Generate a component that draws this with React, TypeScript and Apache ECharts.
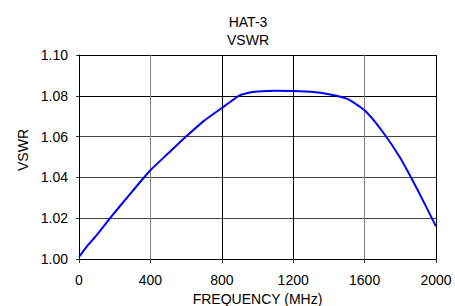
import React, { useEffect, useRef } from "react";
import * as echarts from "echarts";

const freqs = [0, 50, 100, 200, 300, 400, 500, 600, 700, 800, 850, 900, 950, 1000, 1100, 1200, 1300, 1400, 1500, 1600, 1700, 1800, 1900, 2000];
const vswr = [1.001, 1.0068, 1.0118, 1.0228, 1.0333, 1.0435, 1.0518, 1.06, 1.0677, 1.074, 1.0772, 1.0802, 1.0815, 1.0821, 1.0825, 1.0824, 1.082, 1.0808, 1.0786, 1.0729, 1.0625, 1.0495, 1.0333, 1.016];
const xTicks = [0, 400, 800, 1200, 1600, 2000];
const yTicks = [1.0, 1.02, 1.04, 1.06, 1.08, 1.1];

export default function App() {
  const ref = useRef<HTMLDivElement>(null);
  useEffect(() => {
    const chart = echarts.init(ref.current!, undefined, { renderer: "svg" });
    const font = "Liberation Sans, Arial, sans-serif";
    chart.setOption({
      animation: false,
      backgroundColor: "#fff",
      title: {
        text: "HAT-3\nVSWR",
        left: 243,
        textAlign: "center",
        top: 8,
        textStyle: { fontFamily: font, fontSize: 14, fontWeight: "normal", color: "#000", lineHeight: 18 },
      },
      grid: { left: 79, right: 19, top: 55, bottom: 47, outerBoundsMode: "none", containLabel: false },
      xAxis: {
        type: "value",
        min: xTicks[0],
        max: xTicks[xTicks.length - 1],
        interval: 400,
        name: "FREQUENCY (MHz)",
        nameLocation: "middle",
        nameGap: 28,
        nameTextStyle: { fontFamily: font, fontSize: 14, color: "#000", lineHeight: 14 },
        axisLine: { lineStyle: { color: "#000", width: 1 } },
        axisTick: { show: true, inside: false, length: 4, lineStyle: { color: "#333" } },
        axisLabel: { fontFamily: font, fontSize: 14, color: "#000", margin: 14, formatter: (v: number) => String(v) },
        splitLine: { show: true, lineStyle: { color: ["#000", "#808080", "#000", "#000", "#808080", "#000"], width: 1 } },
      },
      yAxis: {
        type: "value",
        min: yTicks[0],
        max: yTicks[yTicks.length - 1],
        interval: 0.02,
        name: "VSWR",
        nameLocation: "middle",
        nameGap: 47,
        nameTextStyle: { fontFamily: font, fontSize: 14, color: "#000", padding: [0, 0, 0, 14] },
        axisLine: { show: true, lineStyle: { color: "#000", width: 1 } },
        axisTick: { show: true, inside: false, length: 3, lineStyle: { color: "#333" } },
        axisLabel: { fontFamily: font, fontSize: 14, color: "#000", margin: 11, formatter: (v: number) => v.toFixed(2) },
        splitLine: { show: true, lineStyle: { color: ["#000", "#444", "#444", "#444", "#000", "#000"], width: 1 } },
      },
      series: [
        {
          type: "line",
          data: freqs.map((f, i) => [f, vswr[i]]),
          smooth: 0.2,
          showSymbol: false,
          lineStyle: { color: "#0000ff", width: 2 },
        },
      ],
      graphic: [
        {
          type: "rect",
          shape: { x: 79.5, y: 55.5, width: 357, height: 204 },
          style: { fill: "none", stroke: "#000", lineWidth: 1 },
          silent: true,
        },
      ],
    });
    return () => chart.dispose();
  }, []);
  return <div ref={ref} style={{ width: 455, height: 306, position: "absolute", left: 0, top: 0 }} />;
}
